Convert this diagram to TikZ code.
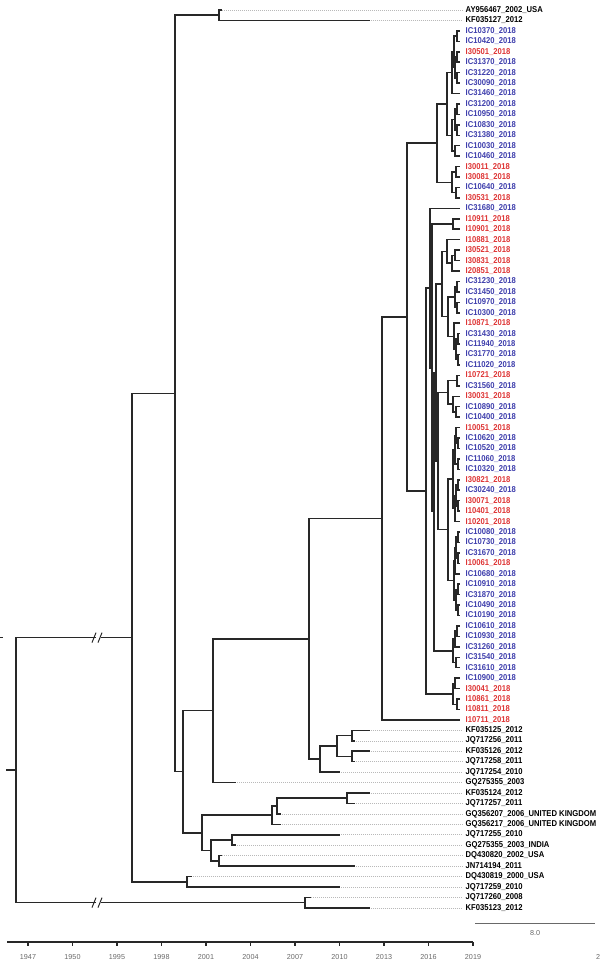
\documentclass[tikz,border=0pt]{standalone}
\usepackage{fontspec}
\setmainfont{Liberation Sans}
\newfontfamily\labfont[FakeStretch=0.9]{Liberation Sans}
\newfontfamily\axfont{Liberation Sans}
\usetikzlibrary{calc}
\definecolor{tblue}{RGB}{62,62,172}
\definecolor{tred}{RGB}{222,52,52}
\definecolor{tline}{RGB}{40,40,40}
\definecolor{tdot}{RGB}{185,185,185}
\definecolor{tgray}{RGB}{105,105,105}
\tikzset{
 br/.style={draw=tline,line width=1.5pt,line cap=rect},
 lab/.style={anchor=west,inner sep=0pt,font=\labfont\bfseries\fontsize{8.5}{9}\selectfont},
 dotln/.style={draw=tdot,line width=0.6pt,dash pattern=on 1pt off 1pt},
 axlab/.style={inner sep=0pt,text=tgray,font=\axfont\fontsize{7.2}{8}\selectfont},
 axln/.style={draw=tline,line width=1.3pt}
}
\newcommand\mknode[4]{%
 \path let \p1=($(#3)!0.5!(#4)$) in coordinate (#1) at (#2pt,\y1);
 \draw[br] (#1) |- (#3);
 \draw[br] (#1) |- (#4);}
\begin{document}
\begin{tikzpicture}[x=1pt,y=-1pt]
\useasboundingbox (0,0) rectangle (600,964);
% ---- 2018 leaves
\foreach \i/\n/\c in {3/IC10370/tblue,4/IC10420/tblue,5/I30501/tred,6/IC31370/tblue,7/IC31220/tblue,8/IC30090/tblue,9/IC31460/tblue,10/IC31200/tblue,11/IC10950/tblue,12/IC10830/tblue,13/IC31380/tblue,14/IC10030/tblue,15/IC10460/tblue,16/I30011/tred,17/I30081/tred,18/IC10640/tblue,19/I30531/tred,20/IC31680/tblue,21/I10911/tred,22/I10901/tred,23/I10881/tred,24/I30521/tred,25/I30831/tred,26/I20851/tred,27/IC31230/tblue,28/IC31450/tblue,29/IC10970/tblue,30/IC10300/tblue,31/I10871/tred,32/IC31430/tblue,33/IC11940/tblue,34/IC31770/tblue,35/IC11020/tblue,36/I10721/tred,37/IC31560/tblue,38/I30031/tred,39/IC10890/tblue,40/IC10400/tblue,41/I10051/tred,42/IC10620/tblue,43/IC10520/tblue,44/IC11060/tblue,45/IC10320/tblue,46/I30821/tred,47/IC30240/tblue,48/I30071/tred,49/I10401/tred,50/I10201/tred,51/IC10080/tblue,52/IC10730/tblue,53/IC31670/tblue,54/I10061/tred,55/IC10680/tblue,56/IC10910/tblue,57/IC31870/tblue,58/IC10490/tblue,59/IC10190/tblue,60/IC10610/tblue,61/IC10930/tblue,62/IC31260/tblue,63/IC31540/tblue,64/IC31610/tblue,65/IC10900/tblue,66/I30041/tred,67/I10861/tred,68/I10811/tred,69/I10711/tred}{
 \pgfmathsetmacro\yy{10+(\i-1)*10.44}
 \coordinate (t\i) at (459,\yy);
 \node[lab,text=\c] (l\i) at (465.5,\yy) {\n\_2018};
}
% ---- other leaves
\foreach \i/\n/\x in {1/AY956467\_2002\_USA/220.9,2/KF035127\_2012/369.2,70/KF035125\_2012/369.2,71/JQ717256\_2011/354.4,72/KF035126\_2012/369.2,73/JQ717258\_2011/354.4,74/JQ717254\_2010/339.5,75/GQ275355\_2003/235.7,76/KF035124\_2012/369.2,77/JQ717257\_2011/354.4,78/GQ356207\_2006\_UNITED KINGDOM/280.2,79/GQ356217\_2006\_UNITED KINGDOM/280.2,80/JQ717255\_2010/339.5,81/GQ275355\_2003\_INDIA/235.7,82/DQ430820\_2002\_USA/220.9,83/JN714194\_2011/354.4,84/DQ430819\_2000\_USA/191.2,85/JQ717259\_2010/339.5,86/JQ717260\_2008/309.9,87/KF035123\_2012/369.2}{
 \pgfmathsetmacro\yy{10+(\i-1)*10.44}
 \coordinate (t\i) at (\x,\yy);
 \node[lab,text=black] (l\i) at (465.5,\yy) {\n};
 \draw[dotln] ([xshift=1.5pt]t\i) -- ([xshift=-3pt]l\i.west);
}
% ---- top 2018 clade
\mknode{x34}{457}{t3}{t4}
\mknode{x56}{457}{t5}{t6}
\mknode{x78}{457}{t7}{t8}
\mknode{x58}{455}{x56}{x78}
\mknode{x38}{454}{x34}{x58}
\mknode{x39}{452}{x38}{t9}
\mknode{x1011}{457}{t10}{t11}
\mknode{x1213}{457}{t12}{t13}
\mknode{x1013}{455}{x1011}{x1213}
\mknode{x1415}{455}{t14}{t15}
\mknode{x1015}{452}{x1013}{x1415}
\mknode{x315}{447}{x39}{x1015}
\mknode{x1617}{456}{t16}{t17}
\mknode{x1819}{456}{t18}{t19}
\mknode{x1619}{452}{x1617}{x1819}
\mknode{X}{437}{x315}{x1619}
% ---- lower 2018 clade
\mknode{n2122}{453}{t21}{t22}
\mknode{n2425}{455}{t24}{t25}
\mknode{n2426}{452}{n2425}{t26}
\mknode{n2326}{447}{t23}{n2426}
\mknode{n2728}{457}{t27}{t28}
\mknode{n2930}{457}{t29}{t30}
\mknode{n2730}{455}{n2728}{n2930}
\mknode{n3233}{458}{t32}{t33}
\mknode{n3435}{458}{t34}{t35}
\mknode{n3235}{456}{n3233}{n3435}
\mknode{n3135}{454}{t31}{n3235}
\mknode{n2735}{448}{n2730}{n3135}
\mknode{n2335}{442}{n2326}{n2735}
\mknode{n3637}{457}{t36}{t37}
\mknode{n3940}{456}{t39}{t40}
\mknode{n3840}{453}{t38}{n3940}
\mknode{n3640}{448}{n3637}{n3840}
\mknode{n4243}{458}{t42}{t43}
\mknode{n4143}{456}{t41}{n4243}
\mknode{n4445}{458}{t44}{t45}
\mknode{n4145}{455}{n4143}{n4445}
\mknode{n4647}{458}{t46}{t47}
\mknode{n4849}{458}{t48}{t49}
\mknode{n4649}{456}{n4647}{n4849}
\mknode{n4650}{455}{n4649}{t50}
\mknode{n4150}{453}{n4145}{n4650}
\mknode{n5152}{458}{t51}{t52}
\mknode{n5354}{458}{t53}{t54}
\mknode{n5154}{456}{n5152}{n5354}
\mknode{n5155}{455}{n5154}{t55}
\mknode{n5657}{458}{t56}{t57}
\mknode{n5859}{458}{t58}{t59}
\mknode{n5659}{456}{n5657}{n5859}
\mknode{n5159}{454}{n5155}{n5659}
\mknode{n4159}{448}{n4150}{n5159}
\mknode{n3659}{438}{n3640}{n4159}
\mknode{n2359}{436}{n2335}{n3659}
\mknode{n6061}{457}{t60}{t61}
\mknode{n6062}{455}{n6061}{t62}
\mknode{n6364}{456}{t63}{t64}
\mknode{n6064}{453}{n6062}{n6364}
\mknode{n2364}{434}{n2359}{n6064}
\mknode{n2164}{432}{n2122}{n2364}
\mknode{n2064}{430}{t20}{n2164}
\mknode{n6566}{455}{t65}{t66}
\mknode{n6768}{457}{t67}{t68}
\mknode{n6568}{453}{n6566}{n6768}
\mknode{Z}{426}{n2064}{n6568}
\mknode{W}{407}{X}{Z}
\mknode{V}{382}{W}{t69}
% ---- older lineages
\mknode{R}{352}{t70}{t71}
\mknode{S}{352}{t72}{t73}
\mknode{Q}{337}{R}{S}
\mknode{P}{320}{Q}{t74}
\mknode{N}{309}{V}{P}
\mknode{M}{213}{N}{t75}
\mknode{A}{347}{t76}{t77}
\mknode{Ap}{277}{A}{t78}
\mknode{B}{272}{Ap}{t79}
\mknode{D}{232}{t80}{t81}
\mknode{F}{219}{t82}{t83}
\mknode{E}{211}{D}{F}
\mknode{G}{202}{B}{E}
\mknode{H}{183}{M}{G}
\mknode{top}{219}{t1}{t2}
\mknode{T1}{175}{top}{H}
\mknode{J}{187}{t84}{t85}
\mknode{T0}{132}{T1}{J}
\mknode{K}{305}{t86}{t87}
% ---- root with breaks
\path let \p1=($(T0)!0.5!(K)$) in coordinate (root) at (16pt,\y1);
\coordinate (rs) at ($(root)+(-9,0)$);
\draw[br] (root) -- (rs);
\coordinate (ua) at ($(root|-T0)+(79,0)$);
\coordinate (ub) at ($(root|-T0)+(86,0)$);
\coordinate (la) at ($(root|-K)+(79,0)$);
\coordinate (lb) at ($(root|-K)+(86,0)$);
\draw[br] (root) |- (ua);
\draw[br] (ub) -- (T0);
\draw[br] (root) |- (la);
\draw[br] (lb) -- (K);
\foreach \c in {ua,la}{
 \draw[tline,line width=1pt] ($(\c)+(-3,5)$) -- ++(4,-10);
 \draw[tline,line width=1pt] ($(\c)+(3,5)$) -- ++(4,-10);
}
\coordinate (mk) at ($(root|-T0)+(-16,0)$);
\draw[tline,line width=1pt] (mk) -- ++(2.5,0);
% ---- axis
\coordinate (ax0) at (7,942);
\coordinate (ax1) at (473,942);
\draw[axln] (ax0) -- (ax1);
\foreach \k/\yr in {0/1947,1/1950,2/1995,3/1998,4/2001,5/2004,6/2007,7/2010,8/2013,9/2016,10/2019}{
 \coordinate (tk\k) at ($(28,942)+(\k*44.5,0)$);
 \draw[axln] (tk\k) -- ++(0,3.5);
 \node[axlab] (yl\k) at ($(tk\k)+(0,15)$) {\yr};
}
\node[axlab,anchor=west] (yl11) at (596,957) {2};
% ---- scale bar
\coordinate (sb0) at (475,923);
\coordinate (sb1) at (595,923);
\draw[draw=tgray,line width=0.8pt] (sb0) -- (sb1);
\node[axlab] (sbl) at (535,933.5) {8.0};
\end{tikzpicture}
\end{document}
